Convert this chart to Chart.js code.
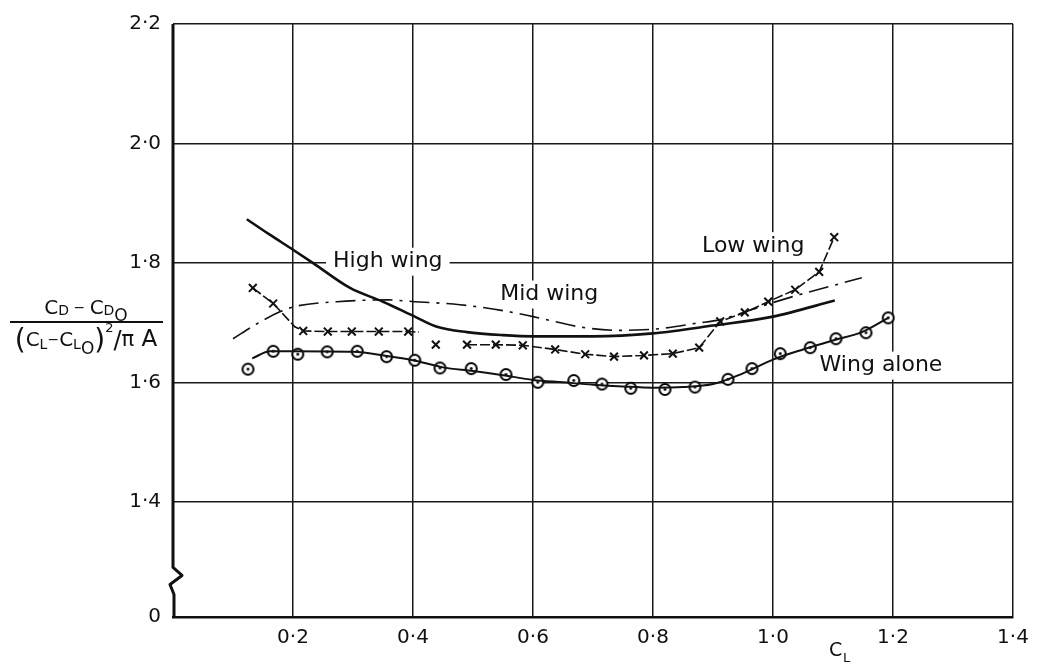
<!DOCTYPE html>
<html>
<head>
<meta charset="utf-8">
<script src="https://cdn.jsdelivr.net/npm/chart.js@4.4.1/dist/chart.umd.min.js"></script>
<style>
  html, body { margin: 0; padding: 0; background: #fff; }
  #wrap { width: 1045px; height: 665px; }
</style>
</head>
<body>
<div id="wrap"><canvas id="c" width="1045" height="665"></canvas></div>
<script>
// ---------- DATA ----------
const xTickValues = [0, 0.2, 0.4, 0.6, 0.8, 1.0, 1.2, 1.4];
const xTickLabels = ['', '0·2', '0·4', '0·6', '0·8', '1·0', '1·2', '1·4'];
const yTickValues = [1.207, 1.4, 1.6, 1.8, 2.0, 2.2];
const yTickLabels = ['0', '1·4', '1·6', '1·8', '2·0', '2·2'];

// Wing alone: measured points (circles)
const wingAloneX = [0.125, 0.167, 0.208, 0.257, 0.307, 0.356, 0.403, 0.445, 0.497, 0.555, 0.608, 0.668, 0.715, 0.763, 0.820, 0.870, 0.925, 0.965, 1.012, 1.062, 1.105, 1.155, 1.192];
const wingAloneY = [1.622, 1.652, 1.647, 1.651, 1.652, 1.643, 1.637, 1.624, 1.623, 1.613, 1.600, 1.603, 1.597, 1.590, 1.588, 1.592, 1.605, 1.623, 1.648, 1.658, 1.673, 1.683, 1.708];
// Wing alone: faired curve
const wingAloneCurveX = [0.132, 0.162, 0.200, 0.300, 0.357, 0.400, 0.450, 0.500, 0.550, 0.600, 0.650, 0.700, 0.750, 0.800, 0.850, 0.900, 0.950, 1.000, 1.050, 1.100, 1.150, 1.192];
const wingAloneCurveY = [1.640, 1.652, 1.652, 1.651, 1.644, 1.637, 1.625, 1.619, 1.612, 1.604, 1.600, 1.596, 1.593, 1.591, 1.592, 1.597, 1.615, 1.638, 1.655, 1.670, 1.685, 1.708];

// Low wing: measured points (crosses)
const lowWingX = [0.133, 0.167, 0.217, 0.258, 0.298, 0.343, 0.392, 0.438, 0.490, 0.538, 0.583, 0.637, 0.687, 0.735, 0.785, 0.833, 0.877, 0.912, 0.953, 0.992, 1.037, 1.077, 1.102];
const lowWingY = [1.758, 1.732, 1.686, 1.685, 1.685, 1.685, 1.685, 1.663, 1.663, 1.663, 1.662, 1.655, 1.647, 1.643, 1.645, 1.648, 1.658, 1.702, 1.717, 1.735, 1.755, 1.785, 1.843];
// Low wing connecting line (two pieces)
const lowWingLine1X = [0.133, 0.167, 0.203, 0.217, 0.258, 0.298, 0.343, 0.392, 0.410];
const lowWingLine1Y = [1.758, 1.732, 1.693, 1.686, 1.685, 1.685, 1.685, 1.685, 1.684];
const lowWingLine2X = [0.490, 0.538, 0.583, 0.637, 0.687, 0.735, 0.785, 0.833, 0.877, 0.912, 0.953, 0.992, 1.037, 1.077, 1.102];
const lowWingLine2Y = [1.663, 1.663, 1.662, 1.655, 1.647, 1.643, 1.645, 1.648, 1.658, 1.702, 1.717, 1.735, 1.755, 1.785, 1.843];

// Mid wing (chain-dotted curve)
const midWingX = [0.100, 0.140, 0.178, 0.203, 0.273, 0.357, 0.403, 0.478, 0.550, 0.600, 0.683, 0.740, 0.783, 0.812, 0.873, 0.912, 0.995, 1.045, 1.148];
const midWingY = [1.673, 1.698, 1.718, 1.727, 1.735, 1.738, 1.735, 1.730, 1.720, 1.710, 1.692, 1.687, 1.688, 1.690, 1.699, 1.705, 1.732, 1.747, 1.775];

// High wing (full curve)
const highWingX = [0.123, 0.160, 0.200, 0.233, 0.295, 0.350, 0.403, 0.440, 0.490, 0.550, 0.600, 0.700, 0.800, 0.900, 1.000, 1.103];
const highWingY = [1.873, 1.848, 1.822, 1.800, 1.758, 1.735, 1.710, 1.693, 1.684, 1.679, 1.677, 1.677, 1.682, 1.695, 1.710, 1.737];

// Curve labels (text, x value, y value)
const curveLabels = [
  ['High wing', 0.358, 1.802],
  ['Mid wing', 0.627, 1.747],
  ['Low wing', 0.967, 1.828],
  ['Wing alone', 1.180, 1.628]
];

// ---------- helpers ----------
const FONT = '"DejaVu Sans", "Liberation Sans", sans-serif';
const INK = '#111';
function pts(xs, ys) { return xs.map((x, i) => ({ x: x, y: ys[i] })); }

function makeCircleDot() {
  const c = document.createElement('canvas');
  c.width = 15; c.height = 15;
  const g = c.getContext('2d');
  g.beginPath(); g.arc(7.5, 7.5, 5.5, 0, Math.PI * 2);
  g.fillStyle = '#fff'; g.fill();
  g.lineWidth = 2; g.strokeStyle = '#000'; g.stroke();
  g.beginPath(); g.arc(7.5, 7.5, 1.4, 0, Math.PI * 2);
  g.fillStyle = '#000'; g.fill();
  return c;
}
const circleDot = makeCircleDot();

function drawRich(ctx, parts, cx, baseline) {
  let total = 0;
  parts.forEach(p => { ctx.font = p.s + 'px ' + FONT; p.w = ctx.measureText(p.t).width; total += p.w; });
  let x = cx - total / 2;
  ctx.textBaseline = 'alphabetic';
  ctx.textAlign = 'left';
  parts.forEach(p => {
    ctx.font = p.s + 'px ' + FONT;
    ctx.fillText(p.t, x, baseline + (p.dy || 0));
    x += p.w;
  });
}

const decorPlugin = {
  id: 'decor',
  beforeDatasetsDraw(chart) {
    const ctx = chart.ctx;
    const xs = chart.scales.x, ys = chart.scales.y;
    ctx.save();
    ctx.font = '22px ' + FONT;
    ctx.textAlign = 'center';
    ctx.textBaseline = 'middle';
    curveLabels.forEach(([t, xv, yv]) => {
      const px = xs.getPixelForValue(xv), py = ys.getPixelForValue(yv);
      const w = ctx.measureText(t).width;
      ctx.fillStyle = '#fff';
      ctx.fillRect(px - w / 2 - 7, py - 14, w + 14, 28);
      ctx.fillStyle = INK;
      ctx.fillText(t, px, py);
    });
    ctx.restore();
  },
  afterDraw(chart) {
    const ctx = chart.ctx;
    const a = chart.chartArea;
    const ys = chart.scales.y;
    ctx.save();
    ctx.strokeStyle = INK;
    ctx.fillStyle = INK;
    // left axis with break mark
    const L = a.left;
    const yb = ys.getPixelForValue(1.29);
    ctx.lineWidth = 3;
    ctx.lineJoin = 'round';
    ctx.beginPath();
    ctx.moveTo(L, a.top);
    ctx.lineTo(L, yb);
    ctx.lineTo(L + 9, yb + 8);
    ctx.lineTo(L - 3, yb + 17);
    ctx.lineTo(L + 1, yb + 27);
    ctx.lineTo(L + 1, a.bottom + 1);
    ctx.stroke();
    // y-axis title as a fraction
    ctx.lineWidth = 2;
    ctx.beginPath();
    ctx.moveTo(10, 322); ctx.lineTo(163, 322);
    ctx.stroke();
    drawRich(ctx, [
      { t: 'C', s: 20 }, { t: 'D', s: 14, dy: 1 }, { t: ' − ', s: 14, dy: -2 },
      { t: 'C', s: 20 }, { t: 'D', s: 14, dy: 1 }, { t: 'O', s: 17, dy: 7 }
    ], 86, 314);
    drawRich(ctx, [
      { t: '(', s: 28, dy: 3 }, { t: 'C', s: 20 }, { t: 'L', s: 14, dy: 3 },
      { t: '−', s: 14, dy: -2 }, { t: 'C', s: 20 }, { t: 'L', s: 14, dy: 3 },
      { t: 'O', s: 17, dy: 8 }, { t: ')', s: 28, dy: 3 }, { t: '2', s: 13, dy: -14 },
      { t: '/', s: 24, dy: 2 }, { t: 'π', s: 21 }, { t: ' A', s: 23 }
    ], 86, 346);
    // x-axis title
    ctx.font = '19px ' + FONT;
    ctx.textAlign = 'left';
    ctx.fillText('C', 829, 656);
    ctx.font = '13px ' + FONT;
    ctx.fillText('L', 843, 662);
    ctx.restore();
  }
};

// ---------- CHART ----------
new Chart(document.getElementById('c'), {
  type: 'scatter',
  data: {
    datasets: [
      { data: pts(wingAloneCurveX, wingAloneCurveY), showLine: true, borderColor: INK, borderWidth: 2, pointRadius: 0, cubicInterpolationMode: 'monotone' },
      { data: pts(lowWingLine1X, lowWingLine1Y), showLine: true, borderColor: INK, borderWidth: 1.6, pointRadius: 0, tension: 0, borderDash: [10, 3] },
      { data: pts(lowWingLine2X, lowWingLine2Y), showLine: true, borderColor: INK, borderWidth: 1.6, pointRadius: 0, tension: 0, borderDash: [10, 3] },
      { data: pts(midWingX, midWingY), showLine: true, borderColor: INK, borderWidth: 1.6, pointRadius: 0, cubicInterpolationMode: 'monotone', borderDash: [20, 7, 3, 7] },
      { data: pts(highWingX, highWingY), showLine: true, borderColor: INK, borderWidth: 2.6, pointRadius: 0, cubicInterpolationMode: 'monotone' },
      { data: pts(lowWingX, lowWingY), showLine: false, pointStyle: 'crossRot', pointRadius: 5.5, borderColor: INK, borderWidth: 2 },
      { data: pts(wingAloneX, wingAloneY), showLine: false, pointStyle: circleDot, pointRadius: 6 }
    ]
  },
  options: {
    responsive: false,
    animation: false,
    events: [],
    layout: { padding: { top: 21, right: 32, left: 0, bottom: 0 } },
    plugins: { legend: { display: false }, tooltip: { enabled: false } },
    scales: {
      x: {
        type: 'linear', min: 0, max: 1.4,
        afterBuildTicks: s => { s.ticks = xTickValues.map(v => ({ value: v })); },
        afterFit: s => { s.height = 48; },
        border: { display: true, color: INK, width: 2.5 },
        grid: {
          drawTicks: false,
          lineWidth: 1.5,
          color: c => (c.tick && c.tick.value === 0) ? 'rgba(0,0,0,0)' : '#1a1a1a'
        },
        ticks: {
          padding: 9,
          color: INK,
          font: { family: FONT, size: 20 },
          callback: (v) => xTickLabels[xTickValues.findIndex(t => Math.abs(t - v) < 1e-6)] || ''
        }
      },
      y: {
        type: 'linear', min: 1.207, max: 2.2,
        afterBuildTicks: s => { s.ticks = yTickValues.map(v => ({ value: v })); },
        afterFit: s => { s.width = 173; },
        border: { display: false },
        grid: {
          drawTicks: false,
          lineWidth: 1.5,
          color: c => (c.tick && c.tick.value < 1.3) ? 'rgba(0,0,0,0)' : '#1a1a1a'
        },
        ticks: {
          padding: 12,
          color: INK,
          font: { family: FONT, size: 20 },
          callback: (v) => yTickLabels[yTickValues.findIndex(t => Math.abs(t - v) < 1e-6)] || ''
        }
      }
    }
  },
  plugins: [decorPlugin]
});
</script>
</body>
</html>
